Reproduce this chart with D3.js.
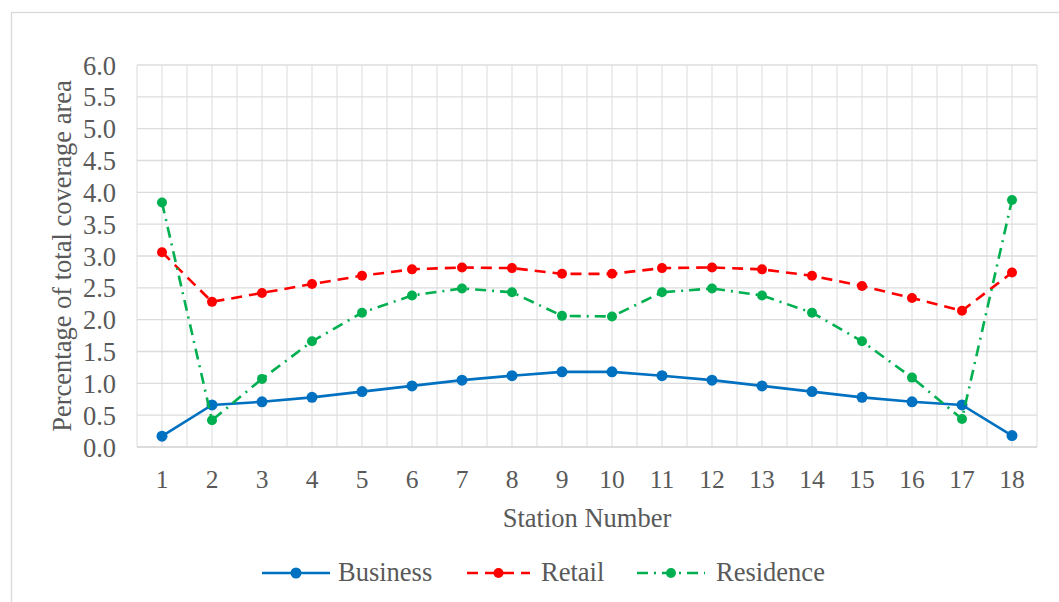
<!DOCTYPE html>
<html>
<head>
<meta charset="utf-8">
<script src="https://cdn.jsdelivr.net/npm/d3@7"></script>
<style>
  html, body { margin: 0; padding: 0; background: #fff; }
  svg { display: block; }
  text { font-family: "Liberation Serif", "Times New Roman", serif; fill: #595959; }
</style>
</head>
<body>
<svg id="chart" width="1059" height="602"></svg>
<script>
const stations = ["1","2","3","4","5","6","7","8","9","10","11","12","13","14","15","16","17","18"];
const business = [0.17, 0.66, 0.71, 0.78, 0.87, 0.96, 1.05, 1.12, 1.18, 1.18, 1.12, 1.05, 0.96, 0.87, 0.78, 0.71, 0.66, 0.18];
const retail = [3.06, 2.28, 2.42, 2.56, 2.69, 2.79, 2.82, 2.81, 2.72, 2.72, 2.81, 2.82, 2.79, 2.69, 2.53, 2.34, 2.14, 2.74];
const residence = [3.84, 0.42, 1.07, 1.66, 2.11, 2.38, 2.49, 2.43, 2.06, 2.05, 2.43, 2.49, 2.38, 2.11, 1.66, 1.09, 0.44, 3.88];
const yTicks = [0, 0.5, 1, 1.5, 2, 2.5, 3, 3.5, 4, 4.5, 5, 5.5, 6];
const seriesNames = ["Business", "Retail", "Residence"];
const seriesColors = ["#0070C0", "#FF0000", "#00B050"];
const seriesDash = [null, "11,7", "11,6,2,6"];

const svg = d3.select("#chart");
const plot = {left: 137, right: 1037, top: 65, bottom: 447};

// outer frame
svg.append("rect").attr("x", 11.5).attr("y", 12.5).attr("width", 1100).attr("height", 700)
  .attr("fill", "none").attr("stroke", "#d9d9d9").attr("stroke-width", 1.3);

const x = d3.scaleBand().domain(stations).range([plot.left, plot.right]).padding(0);
const y = d3.scaleLinear().domain([0, 6]).range([plot.bottom, plot.top]);
const cx = d => x(d) + x.bandwidth() / 2;

// vertical gridlines (band edges and centres)
const vLines = [];
stations.forEach(s => { vLines.push(x(s)); vLines.push(cx(s)); });
vLines.push(plot.right);
svg.append("g").selectAll("line").data(vLines).join("line")
  .attr("x1", d => d).attr("x2", d => d).attr("y1", plot.top).attr("y2", plot.bottom)
  .attr("stroke", "#e3e3e3").attr("stroke-width", 1.3);

// horizontal gridlines
svg.append("g").selectAll("line").data(yTicks).join("line")
  .attr("x1", plot.left).attr("x2", plot.right).attr("y1", d => y(d)).attr("y2", d => y(d))
  .attr("stroke", d => d === 0 ? "#d0d0d0" : "#dcdcdc").attr("stroke-width", d => d === 0 ? 1.6 : 1.3);

// y axis labels
const yAxis = d3.axisLeft(y).tickValues(yTicks).tickFormat(d3.format(".1f")).tickSize(0).tickPadding(0);
const gy = svg.append("g").attr("transform", `translate(${plot.left - 21},0)`).call(yAxis);
gy.select(".domain").remove();
gy.selectAll("text").style("font-size", "26.5px").attr("fill", "#595959")
  .style("font-family", '"Liberation Serif", serif').attr("dy", "0.34em");

// x axis labels
const xAxis = d3.axisBottom(x).tickSize(0).tickPadding(0);
const gx = svg.append("g").attr("transform", `translate(0,${plot.bottom + 22})`).call(xAxis);
gx.select(".domain").remove();
gx.selectAll("text").style("font-size", "25.5px").attr("fill", "#595959")
  .style("font-family", '"Liberation Serif", serif').attr("dy", "0.75em");

// axis titles
svg.append("text").attr("x", (plot.left + plot.right) / 2).attr("y", 527)
  .attr("text-anchor", "middle").style("font-size", "26.5px").text("Station Number");
svg.append("text").attr("transform", `translate(71,${(plot.top + plot.bottom) / 2}) rotate(-90)`)
  .attr("text-anchor", "middle").style("font-size", "26.5px").text("Percentage of total coverage area");

// series
const seriesData = [business, retail, residence];
const line = d3.line().x((d, i) => cx(stations[i])).y(d => y(d));
seriesData.forEach((vals, k) => {
  svg.append("path").datum(vals).attr("d", line).attr("fill", "none")
    .attr("stroke", seriesColors[k]).attr("stroke-width", 2.6)
    .attr("stroke-dasharray", seriesDash[k]);
  svg.append("g").selectAll("circle").data(vals).join("circle")
    .attr("cx", (d, i) => cx(stations[i])).attr("cy", d => y(d))
    .attr("r", k === 0 ? 5.5 : 5).attr("fill", seriesColors[k]);
});

// legend
const legendItems = [
  {x1: 262, x2: 330, tx: 338},
  {x1: 467, x2: 530, tx: 541},
  {x1: 637, x2: 705, tx: 716}
];
const ly = 573;
const lg = svg.append("g");
seriesNames.forEach((name, k) => {
  const it = legendItems[k];
  lg.append("line").attr("x1", it.x1).attr("x2", it.x2).attr("y1", ly).attr("y2", ly)
    .attr("stroke", seriesColors[k]).attr("stroke-width", 2.6).attr("stroke-dasharray", seriesDash[k]);
  lg.append("circle").attr("cx", (it.x1 + it.x2) / 2).attr("cy", ly).attr("r", k === 0 ? 5.5 : 5).attr("fill", seriesColors[k]);
  lg.append("text").attr("x", it.tx).attr("y", ly + 8).style("font-size", "26.5px").text(name);
});
</script>
</body>
</html>
